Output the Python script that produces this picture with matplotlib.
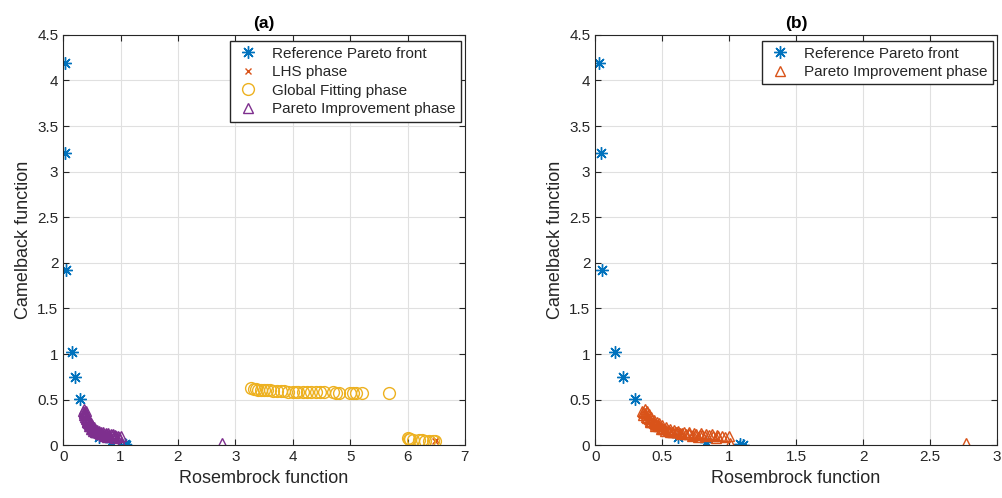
import numpy as np
import matplotlib.pyplot as plt

plt.rcParams['font.family'] = ['Liberation Sans', 'DejaVu Sans']

# Reference Pareto front
ref_x = [0.03, 0.04, 0.05, 0.15, 0.21, 0.30, 0.62, 0.83, 1.08, 1.10]
ref_y = [4.19, 3.20, 1.92, 1.02, 0.75, 0.51, 0.09, 0.035, 0.01, 0.005]

# LHS phase
lhs_x = [6.47, 6.50]
lhs_y = [0.05, 0.06]

# Global Fitting phase
gf_x = [3.28, 3.32, 3.36, 3.40, 3.45, 3.50, 3.55, 3.60, 3.65, 3.72,
        3.80, 3.85, 3.92, 4.00, 4.05, 4.10, 4.18, 4.25, 4.32, 4.40,
        4.48, 4.55, 4.70, 4.75, 4.80, 5.00, 5.05, 5.10, 5.20, 5.67,
        6.00, 6.02, 6.05, 6.10, 6.20, 6.25, 6.30, 6.38, 6.45, 6.48]
gf_y = [0.63, 0.62, 0.62, 0.61, 0.61, 0.60, 0.60, 0.60, 0.59, 0.59,
        0.59, 0.59, 0.58, 0.58, 0.58, 0.58, 0.58, 0.58, 0.58, 0.58,
        0.58, 0.58, 0.58, 0.57, 0.57, 0.57, 0.57, 0.57, 0.57, 0.57,
        0.08, 0.07, 0.07, 0.06, 0.06, 0.06, 0.05, 0.05, 0.05, 0.05]

# Pareto Improvement phase
pi_x = [0.35, 0.36, 0.37, 0.38, 0.38, 0.39, 0.40, 0.41, 0.42, 0.43,
        0.44, 0.45, 0.46, 0.47, 0.48, 0.50, 0.51, 0.52, 0.54, 0.55,
        0.56, 0.58, 0.60, 0.61, 0.63, 0.65, 0.68, 0.70, 0.73, 0.75,
        0.78, 0.80, 0.82, 0.85, 0.88, 0.92, 0.95, 1.00, 1.01, 2.77,
        0.37, 0.39, 0.40, 0.42, 0.44, 0.46, 0.48, 0.50, 0.53, 0.56,
        0.59, 0.62, 0.66, 0.70, 0.74, 0.79, 0.83, 0.87, 0.91, 0.36,
        0.41, 0.45, 0.49, 0.52, 0.57, 0.64, 0.72, 0.77, 0.90, 0.97]
pi_y = [0.38, 0.36, 0.35, 0.33, 0.31, 0.30, 0.29, 0.27, 0.26, 0.25,
        0.24, 0.23, 0.22, 0.21, 0.21, 0.19, 0.18, 0.18, 0.17, 0.16,
        0.15, 0.15, 0.14, 0.14, 0.13, 0.13, 0.12, 0.12, 0.11, 0.12,
        0.11, 0.11, 0.10, 0.11, 0.10, 0.10, 0.10, 0.10, 0.02, 0.02,
        0.40, 0.37, 0.34, 0.31, 0.28, 0.26, 0.24, 0.22, 0.20, 0.18,
        0.17, 0.16, 0.15, 0.14, 0.13, 0.13, 0.12, 0.12, 0.11, 0.33,
        0.25, 0.21, 0.18, 0.16, 0.14, 0.12, 0.10, 0.09, 0.08, 0.09]

blue = '#0072BD'
orange = '#D95319'
yellow = '#EDB120'
purple = '#7E2F8E'
star = (8, 2, 0)


def style(ax, xmax, xticks):
    ax.set_xlim(0, xmax)
    ax.set_ylim(0, 4.5)
    ax.set_xticks(xticks)
    ax.set_xticklabels(['%g' % v for v in xticks])
    ax.set_yticks(np.arange(0, 4.51, 0.5))
    ax.set_yticklabels(['%g' % v for v in np.arange(0, 4.51, 0.5)])
    ax.grid(True, color='#e0e0e0', linewidth=0.8)
    ax.set_axisbelow(True)
    ax.tick_params(direction='in', top=True, right=True, labelsize=11,
                   colors='#262626', length=4)
    for s in ax.spines.values():
        s.set_color('#262626')
        s.set_linewidth(0.8)
    ax.set_xlabel('Rosembrock function', fontsize=13, color='#262626')
    ax.set_ylabel('Camelback function', fontsize=13, color='#262626')


def legend(ax):
    leg = ax.legend(loc='upper right', fontsize=11, frameon=True,
                    fancybox=False, edgecolor='#262626', framealpha=1,
                    borderpad=0.35, labelspacing=0.3, handletextpad=0.8,
                    handlelength=1.6, borderaxespad=0.2,
                    bbox_to_anchor=(0.998, 0.992))
    for t in leg.get_texts():
        t.set_color('#262626')


fig = plt.figure(figsize=(10.02, 4.98), dpi=100)
ax1 = fig.add_axes([0.063, 0.106, 0.401, 0.824])
ax2 = fig.add_axes([0.594, 0.106, 0.401, 0.824])

ax1.plot(ref_x, ref_y, linestyle='none', marker=star, color=blue,
         markersize=9, markeredgewidth=1.0, label='Reference Pareto front')
ax1.plot(lhs_x, lhs_y, linestyle='none', marker='x', color=orange,
         markersize=5, markeredgewidth=1.0, label='LHS phase')
ax1.plot(gf_x, gf_y, linestyle='none', marker='o', color=yellow,
         markerfacecolor='none', markersize=8.5, markeredgewidth=1.0,
         label='Global Fitting phase')
ax1.plot(pi_x, pi_y, linestyle='none', marker='^', color=purple,
         markerfacecolor='none', markersize=7.5, markeredgewidth=1.0,
         label='Pareto Improvement phase')
style(ax1, 7, list(range(0, 8)))
ax1.set_title('(a)', fontsize=12.5, fontweight='bold', pad=5)
legend(ax1)

ax2.plot(ref_x, ref_y, linestyle='none', marker=star, color=blue,
         markersize=9, markeredgewidth=1.0, label='Reference Pareto front')
ax2.plot(pi_x, pi_y, linestyle='none', marker='^', color=orange,
         markerfacecolor='none', markersize=7.5, markeredgewidth=1.0,
         label='Pareto Improvement phase')
style(ax2, 3, [0, 0.5, 1, 1.5, 2, 2.5, 3])
ax2.set_title('(b)', fontsize=12.5, fontweight='bold', pad=5)
legend(ax2)

fig.savefig('out.png', dpi=100)
